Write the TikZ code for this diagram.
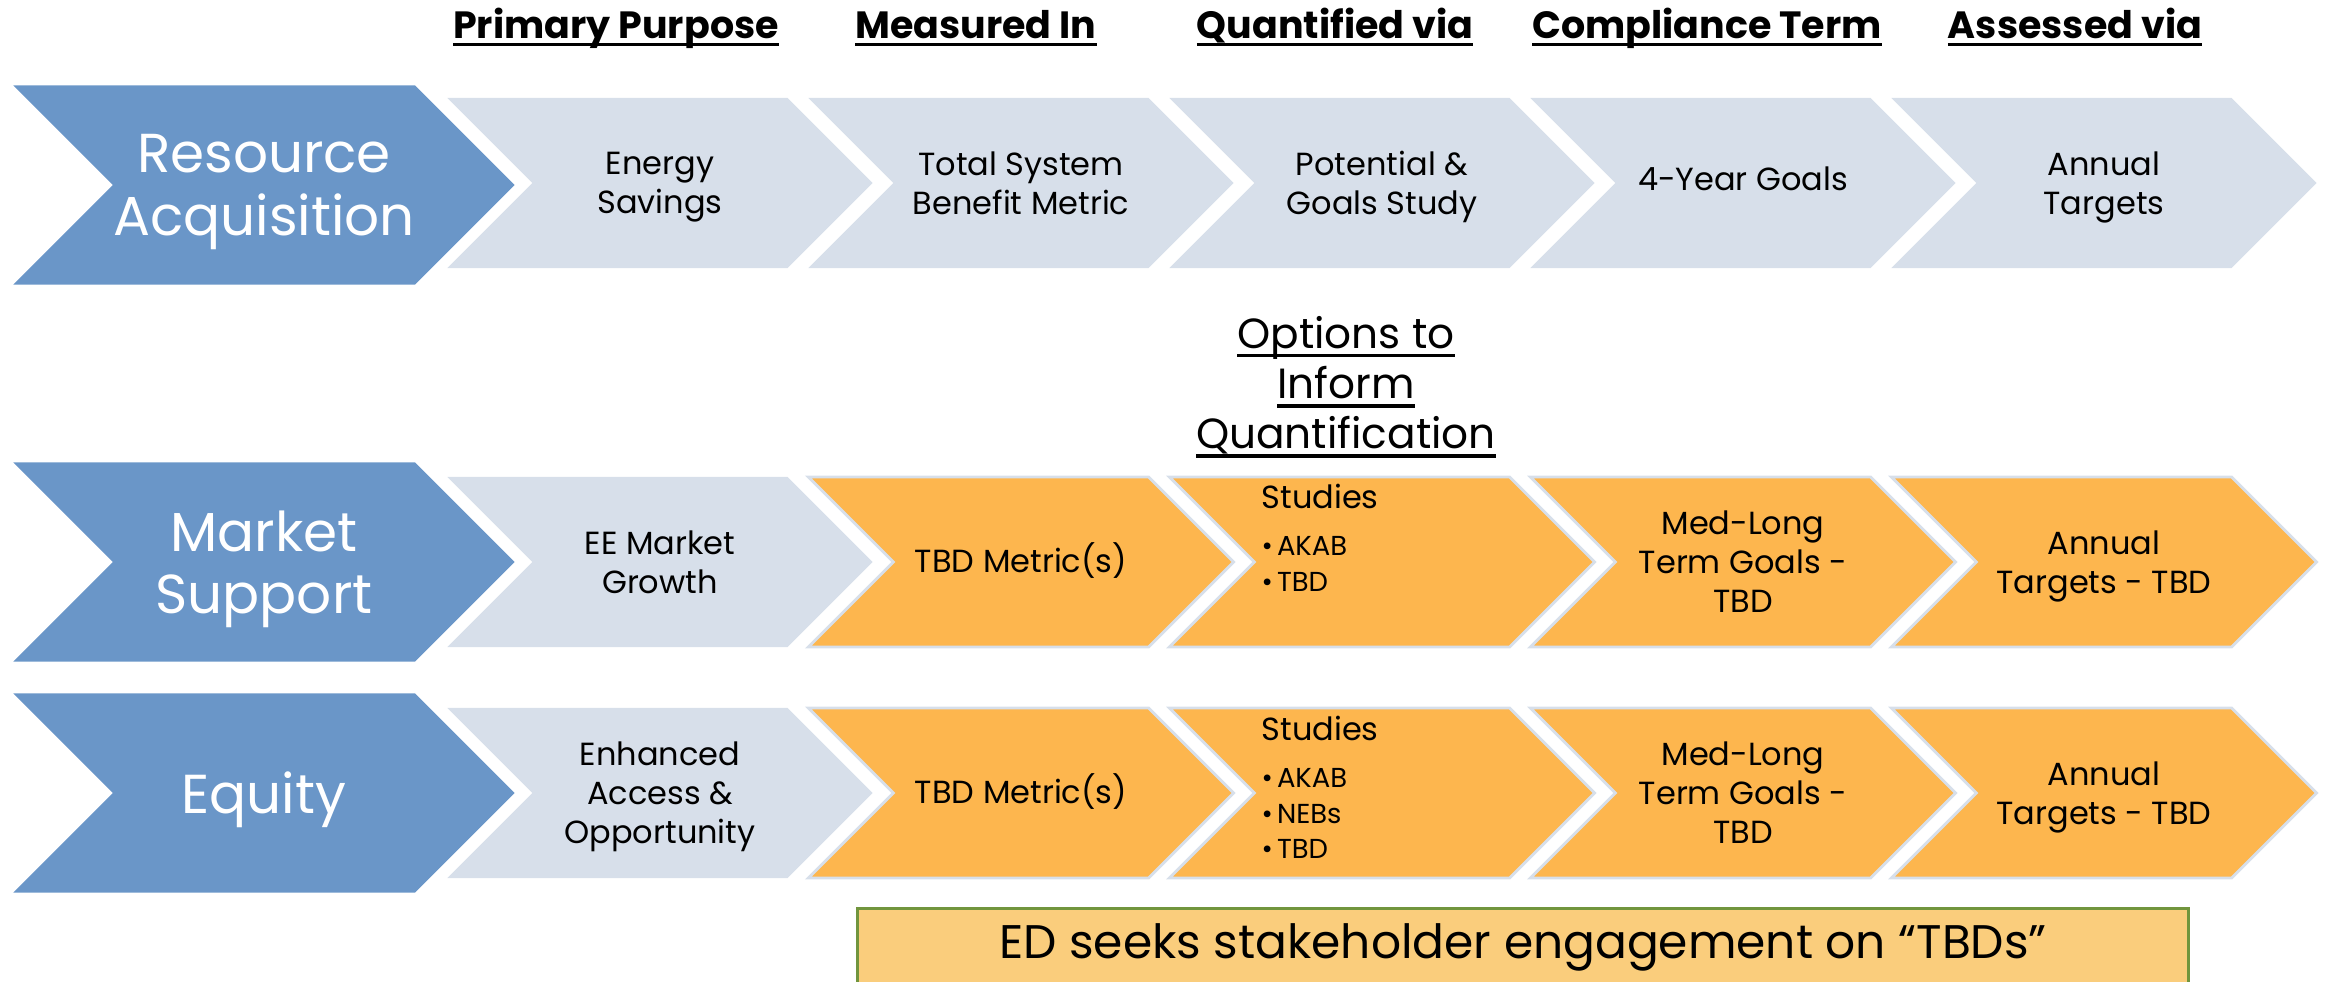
\documentclass[tikz,border=0pt]{standalone}
\usepackage{fontspec}
\setmainfont{Poppins}
\usetikzlibrary{shapes.symbols}

\definecolor{areablue}{HTML}{6A96C8}
\definecolor{stepgray}{HTML}{D7DFEA}
\definecolor{tbdorange}{HTML}{FDB64E}
\definecolor{edfill}{HTML}{FACD7C}
\definecolor{edline}{HTML}{71953D}

\tikzset{
  chev/.style={shape=signal, signal to=east, signal from=west,
    signal pointer angle=90, inner sep=0pt, align=center, text depth=0pt},
  area/.style={chev, fill=areablue, text=white,
    minimum width=5.01cm, minimum height=1.99cm,
    font=\fontsize{15.6}{17.8}\selectfont},
  stepbox/.style={chev, fill=stepgray,
    minimum width=4.25cm, minimum height=1.7cm,
    font=\fontsize{9.1}{11.1}\selectfont},
  oneline/.style={text depth=0.08cm},
  tbdbox/.style={stepbox, fill=tbdorange, draw=stepgray, line width=0.8pt},
  colhead/.style={anchor=base, font=\bfseries\fontsize{10.8}{13}\selectfont},
  studies/.style={anchor=north west, align=left, inner sep=0pt,
    font=\fontsize{7.8}{10}\selectfont},
  edbox/.style={draw=edline, fill=edfill, line width=0.9pt,
    minimum width=13.3cm, inner ysep=0pt,
    text height=0.5cm, text depth=0.43cm,
    font=\fontsize{13.4}{16}\selectfont}
}
\newcommand{\uln}[1]{\setbox0\hbox{#1}\rlap{\rule[-0.21em]{\wd0}{0.085em}}\box0}
\newcommand{\stname}{{\fontsize{9.1}{11}\selectfont Studies}}
\newcommand{\bul}[1]{\textbullet\hspace{0.04cm}#1}

\begin{document}
\begin{tikzpicture}[x=0.01cm, y=-0.01cm]
  \useasboundingbox (0,0) rectangle (2325,981);

  % column heads
  \foreach \i/\x/\t in {1/616/Primary Purpose, 2/976/Measured In,
      3/1335/Quantified via, 4/1707/Compliance Term, 5/2075/Assessed via}
    \node[colhead] (head\i) at (\x,38) {\uln{\t}};

  % resource acquisition
  \node[area] (ra) at (264,185) {Resource\\Acquisition};
  \node[stepbox] (r1) at (660,183) {Energy\\Savings};
  \node[stepbox] (r2) at (1021,183) {Total System\\Benefit Metric};
  \node[stepbox] (r3) at (1382,183) {Potential \&\\Goals Study};
  \node[stepbox, oneline] (r4) at (1743,183) {4-Year Goals};
  \node[stepbox] (r5) at (2104,183) {Annual\\Targets};

  \node[align=center, font=\fontsize{12}{14.3}\selectfont] (opt) at (1346,387)
    {\uln{Options to}\\\uln{Inform}\\\uln{Quantification}};

  % market support
  \node[area] (ma) at (264,562) {Market\\Support};
  \node[stepbox] (m1) at (660,562) {EE Market\\Growth};
  \node[tbdbox, oneline] (m2) at (1021,562) {TBD Metric(s)};
  \node[tbdbox] (m3) at (1382,562) {};
  \node[studies] (ms) at (1261,483) {\stname\\[3.6pt]\bul{AKAB}\\\bul{TBD}};
  \node[tbdbox] (m4) at (1743,562) {Med-Long\\Term Goals -\\TBD};
  \node[tbdbox] (m5) at (2104,562) {Annual\\Targets - TBD};

  % equity
  \node[area] (ea) at (264,793) {Equity};
  \node[stepbox] (e1) at (660,793) {Enhanced\\Access \&\\Opportunity};
  \node[tbdbox, oneline] (e2) at (1021,793) {TBD Metric(s)};
  \node[tbdbox] (e3) at (1382,793) {};
  \node[studies] (es) at (1261,715)
    {\stname\\[3.6pt]\bul{AKAB}\\\bul{NEBs}\\\bul{TBD}};
  \node[tbdbox] (e4) at (1743,793) {Med-Long\\Term Goals -\\TBD};
  \node[tbdbox] (e5) at (2104,793) {Annual\\Targets - TBD};

  \node[edbox, anchor=north] (ed) at (1523,907)
    {ED seeks stakeholder engagement on “TBDs”};
\end{tikzpicture}
\end{document}
